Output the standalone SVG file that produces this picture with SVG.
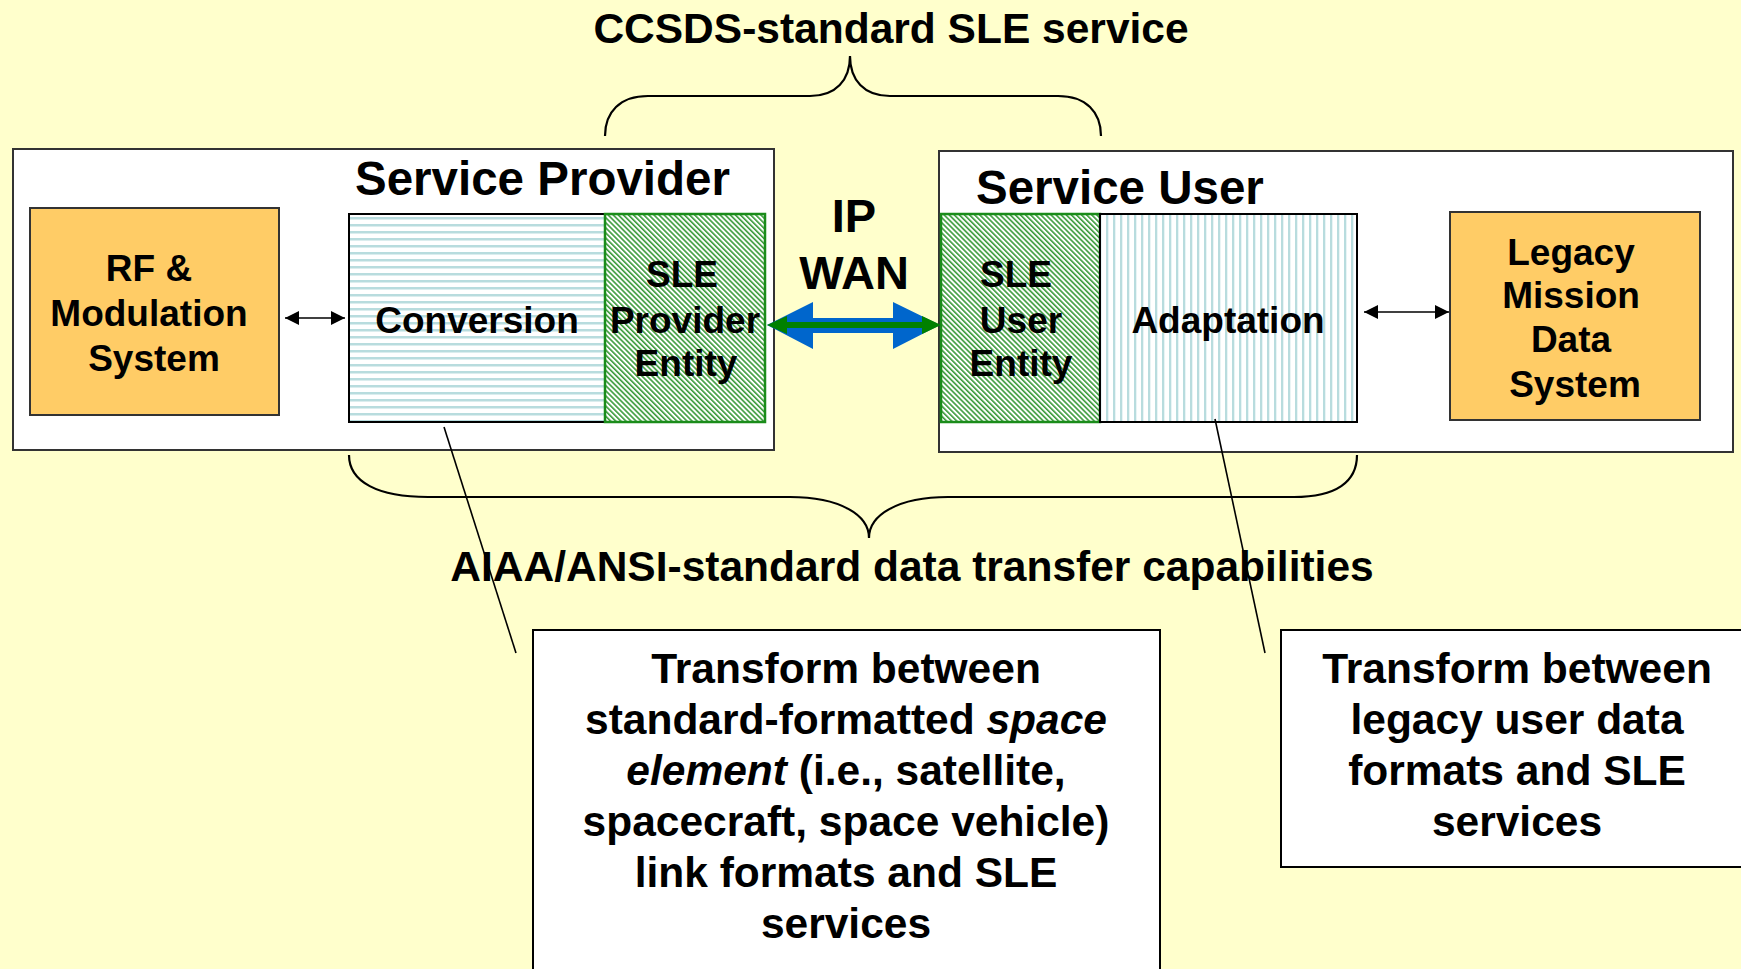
<svg xmlns="http://www.w3.org/2000/svg" width="1741" height="969" viewBox="0 0 1741 969">
<defs>
<style>
text{font-family:"Liberation Sans",Arial,sans-serif;font-weight:bold;fill:#000;}
.t42{font-size:42.5px;text-anchor:middle;}
.t47{font-size:47.5px;}
.t37{font-size:37px;text-anchor:middle;}
.outer{fill:#fff;stroke:#333;stroke-width:2;}
.sys{fill:#FFCC66;stroke:#333;stroke-width:2;}
.blk{stroke:#000;stroke-width:2;}
.sle{fill:url(#diag);stroke:#1a8c1a;stroke-width:2.5;}
.thin{fill:none;stroke:#000;stroke-width:1.6;}
.brace{fill:none;stroke:#000;stroke-width:2.2;}
.note{fill:#fff;stroke:#000;stroke-width:2;}
</style>
<pattern id="hstripe" patternUnits="userSpaceOnUse" width="8" height="7">
<rect width="8" height="7" fill="#fff"/>
<rect y="0" width="8" height="2.5" fill="#b8dcde"/>
</pattern>
<pattern id="vstripe" patternUnits="userSpaceOnUse" width="7" height="8">
<rect width="7" height="8" fill="#fff"/>
<rect x="0" width="2.3" height="8" fill="#b8dcde"/>
</pattern>
<pattern id="diag" patternUnits="userSpaceOnUse" width="3.6" height="10" patternTransform="rotate(-45)">
<rect width="3.6" height="10" fill="#fff"/>
<rect width="1.6" height="10" fill="#3a9a3a"/>
</pattern>
<marker id="ah" viewBox="0 0 10 10" refX="10" refY="5" markerWidth="14" markerHeight="16" markerUnits="userSpaceOnUse" orient="auto-start-reverse">
<path d="M0,0 L10,5 L0,10 z" fill="#000"/>
</marker>
</defs>
<rect width="1741" height="969" fill="#FFFFCC"/>

<g id="title-ccsds"><text class="t42" x="891" y="43">CCSDS-standard SLE service</text></g>

<g id="service-provider">
<rect class="outer" x="13" y="149" width="761" height="301"/>
<text class="t47" x="355" y="195">Service Provider</text>
</g>
<g id="service-user">
<rect class="outer" x="939" y="151" width="794" height="301"/>
<text class="t47" x="976" y="204">Service User</text>
</g>

<g id="rf-modulation">
<rect class="sys" x="30" y="208" width="249" height="207"/>
<text class="t37" x="149" y="281">RF &amp;</text>
<text class="t37" x="149" y="326">Modulation</text>
<text class="t37" x="154" y="371">System</text>
</g>

<g id="conversion">
<rect x="349" y="214" width="256" height="208" fill="url(#hstripe)" class="blk"/>
<text class="t37" x="477" y="333">Conversion</text>
</g>
<g id="sle-provider">
<rect class="sle" x="605" y="214" width="160" height="208"/>
<text class="t37" x="682" y="287">SLE</text>
<text class="t37" x="685" y="333">Provider</text>
<text class="t37" x="686" y="376">Entity</text>
</g>

<g id="sle-user">
<rect class="sle" x="941" y="214" width="159" height="208"/>
<text class="t37" x="1016" y="287">SLE</text>
<text class="t37" x="1021" y="333">User</text>
<text class="t37" x="1021" y="376">Entity</text>
</g>
<g id="adaptation">
<rect x="1100" y="214" width="257" height="208" fill="url(#vstripe)" class="blk"/>
<text class="t37" x="1228" y="333">Adaptation</text>
</g>

<g id="legacy">
<rect class="sys" x="1450" y="212" width="250" height="208"/>
<text class="t37" x="1571" y="265">Legacy</text>
<text class="t37" x="1571" y="308">Mission</text>
<text class="t37" x="1571" y="352">Data</text>
<text class="t37" x="1575" y="397">System</text>
</g>

<g id="ip-wan">
<text class="t42" style="font-size:47px" x="854" y="232">IP</text>
<text class="t42" style="font-size:47px" x="854" y="289">WAN</text>
</g>

<g id="aiaa-label"><text class="t42" x="912" y="581">AIAA/ANSI-standard data transfer capabilities</text></g>

<g id="note-conversion">
<rect class="note" x="533" y="630" width="627" height="360"/>
<text class="t42" x="846" y="683">Transform between</text>
<text class="t42" x="846" y="734">standard-formatted <tspan font-style="italic">space</tspan></text>
<text class="t42" x="846" y="785"><tspan font-style="italic">element</tspan> (i.e., satellite,</text>
<text class="t42" x="846" y="836">spacecraft, space vehicle)</text>
<text class="t42" x="846" y="887">link formats and SLE</text>
<text class="t42" x="846" y="938">services</text>
</g>

<g id="note-adaptation">
<rect class="note" x="1281" y="630" width="480" height="237"/>
<text class="t42" x="1517" y="683">Transform between</text>
<text class="t42" x="1517" y="734">legacy user data</text>
<text class="t42" x="1517" y="785">formats and SLE</text>
<text class="t42" x="1517" y="836">services</text>
</g>

<g id="connectors">
<path class="brace" d="M605,136 C605,112 620,96 648,96 L810,96 C836,96 850,80 850,56 C850,80 864,96 890,96 L1058,96 C1086,96 1101,112 1101,136"/>
<path class="brace" d="M349,455 C349,482 378,497 428,497 L790,497 C840,497 869,515 869,538 C869,515 898,497 948,497 L1294,497 C1336,497 1357,482 1357,455"/>
<line class="thin" x1="444" y1="427" x2="516" y2="653"/>
<line class="thin" x1="1215" y1="419" x2="1265" y2="653"/>
<line class="thin" x1="285" y1="318" x2="345" y2="318" marker-start="url(#ah)" marker-end="url(#ah)"/>
<line class="thin" x1="1364" y1="312" x2="1449" y2="312" marker-start="url(#ah)" marker-end="url(#ah)"/>
<polygon fill="#0066CC" points="767,325 813,302 813,318 893,318 893,302 940,325 893,349 893,333 813,333 813,349"/>
<line x1="784" y1="325" x2="925" y2="325" stroke="#008000" stroke-width="6"/>
<polygon fill="#008000" points="767,325 787,316 787,334"/>
<polygon fill="#008000" points="941,325 922,316 922,334"/>
</g>
</svg>
